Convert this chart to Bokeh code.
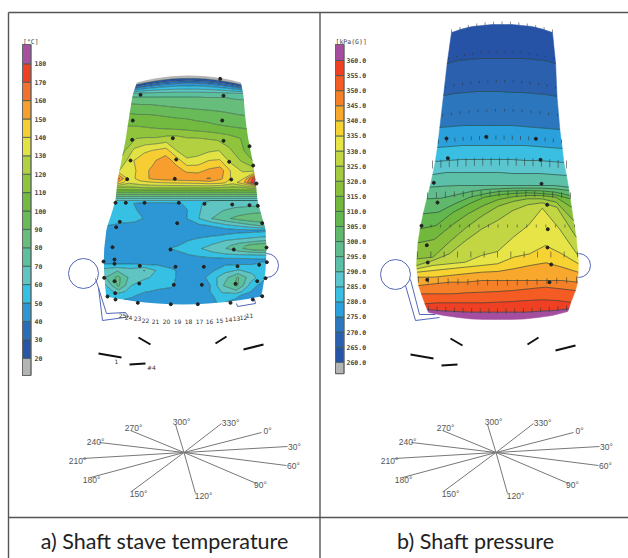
import numpy as np
from bokeh.plotting import figure
from bokeh.models import Range1d
from bokeh.core.properties import value
from bokeh.embed import file_html
from bokeh.resources import INLINE

# ---------- colour scales ----------
temp_levels = [0, 20, 30, 40, 50, 60, 70, 80, 90, 100, 110, 120, 130, 140, 150, 160, 170, 180, 200]
temp_colors = ["#b4b4b4", "#2a55a6", "#2b6cb9", "#2d97d6", "#35c0e4", "#60c5c2", "#5cbf9e", "#66bd7c",
               "#68bb58", "#72bb40", "#90c43c", "#b2d040", "#e2e244", "#f6cd32", "#f89e2e", "#f4702c",
               "#ef4024", "#a84fa2"]
temp_ticks = [180, 170, 160, 150, 140, 130, 120, 110, 100, 90, 80, 70, 60, 50, 40, 30, 20]

pres_levels = [260, 265, 270, 275, 280, 285, 290, 295, 300, 305, 310, 315, 320, 325, 330, 335, 340, 345, 350, 355, 360]
pres_colors = ["#2753a6", "#2a60ad", "#2c76bd", "#2aa0dc", "#3abfe3", "#5cc6cf", "#5cc0a8", "#60bc8c",
               "#5fb86c", "#62b84e", "#72b83c", "#8abf3c", "#a4ca40", "#c2d644", "#e6e446", "#f6d232",
               "#f8a82c", "#f68028", "#f45c24", "#ef4023", "#a54ea0"]
pres_ticks = [f"{v}.0" for v in pres_levels]

# ---------- shaft stave temperature, degrees C ----------
temp_u = [i / 12 for i in range(13)]
temp_row_y = [75, 84, 92, 97, 104, 115, 127, 138, 150, 160, 170, 178, 182, 187, 190, 194, 198, 200, 203, 210,
              218, 225, 230, 235, 240, 245, 248, 254, 259, 264, 270, 277, 285, 291, 296, 304]
temp_row_bow = [7, 5, 1, 0, 0, 0, 0, 0, 0, 0, 0, 0, 0, 0, 0, 0, 0, 0, 0, 0,
                0, 0, 0, 0, 0, 0, 0, 0, 0, 0, 0, 0, 0, 0, -2, -8]
temp_values = [
    [8, 8, 8, 8, 8, 8, 8, 8, 8, 8, 8, 8, 8],
    [45, 45, 45, 45, 45, 45, 45, 45, 45, 45, 45, 45, 45],
    [71, 71, 71, 71, 71, 71, 71, 71, 71, 71, 70, 70, 70],
    [81, 81, 81, 81, 81, 81, 81, 81, 80, 80, 80, 79, 79],
    [91, 90, 90, 89, 88, 87, 86, 85.5, 85, 84.5, 84, 83, 82],
    [102, 101, 101, 100, 99, 98, 97.5, 96, 95, 94, 92.5, 91, 90],
    [111, 111, 110, 109, 108, 107, 106.5, 105, 104, 102, 101, 100, 99],
    [118, 120, 121, 121, 123.5, 124, 121, 120.5, 119.5, 118, 115, 111, 107],
    [118, 132, 138, 141, 144, 130, 124, 125, 128, 130, 122, 113, 105],
    [122, 139, 146, 149, 156, 146, 132, 134, 140, 141, 127, 119, 110],
    [130, 134, 147, 152, 155, 155, 148, 147, 152, 155, 138, 128, 125],
    [165, 135, 145, 152, 155, 156, 157, 157, 161, 152, 138, 140, 180],
    [150, 132, 137, 139, 141, 142, 143, 144, 146, 144, 134, 150, 186],
    [118, 118, 120, 122, 122, 122, 122, 122, 122, 120, 118, 120, 130],
    [108, 108, 108, 108, 108, 108, 108, 108, 108, 108, 108, 108, 108],
    [90, 90, 90, 90, 90, 90, 90, 90, 90, 90, 90, 90, 90],
    [70, 70, 70, 70, 70, 70, 70, 70, 70, 70, 70, 70, 70],
    [60, 60, 60, 60, 60, 60, 60, 60, 60, 60, 60, 60, 60],
    [54, 53, 48, 46, 46, 47, 52, 58, 64, 66, 66, 66, 66],
    [54, 53, 50, 46, 44, 46, 49, 59, 65, 70, 73, 75, 76],
    [52, 52, 53, 48, 45, 44, 49.5, 60, 70, 77, 83, 87, 90],
    [50, 49, 47, 45, 44, 44, 45, 48, 51, 57, 62, 68, 72],
    [45, 45, 45, 45, 45, 45, 45, 45, 45, 46, 47, 47, 48],
    [44, 44, 44, 44, 44, 44, 45, 47, 49, 51, 53, 55, 57],
    [43, 43, 43, 44, 44, 47, 49, 53, 57, 60, 63, 66, 70],
    [44, 44, 44, 44, 45, 48, 52, 56, 61, 67, 76, 84, 88],
    [43, 43, 43, 44, 47, 50.5, 54, 59, 64, 70, 78, 86, 88],
    [42, 42, 43, 43, 44, 46, 49, 53, 57, 59, 60.5, 61, 62],
    [42, 42, 42, 42, 42, 43, 44, 45, 46, 47, 47, 48, 49],
    [51, 51, 51, 50, 49, 46, 44, 43, 45, 49, 50, 50, 52],
    [64, 69, 64, 70.5, 58, 52, 46, 44, 48, 57, 61, 57, 53],
    [69, 83, 66, 62, 57, 52, 46, 43, 55, 66, 81, 64, 53],
    [58, 82, 60, 53, 52, 51, 46, 42, 50, 70.5, 82, 57, 44],
    [52, 66, 54, 50.5, 49, 48, 47, 42, 50, 62, 67, 51, 42],
    [52, 53, 51, 47, 44, 45, 44, 42, 48, 54, 52, 47, 42],
    [50, 51, 48, 45, 43, 43, 43, 43, 49, 50.5, 49, 46, 42],
]
temp_outline_y = [70, 80, 95, 120, 140, 160, 180, 200, 215, 228, 250, 270, 290, 305]
temp_outline_left = [138, 137, 132, 128, 125, 121, 117, 115, 110.5, 106, 103.5, 103.5, 105, 107]
temp_outline_right = [239, 240, 243, 245, 248, 252, 255, 257, 261, 265, 266, 265, 262, 258]

temp_point_x = [219.7, 140, 223, 132.3, 221.7, 131.7, 172.3, 223, 249, 130, 175.7, 228.7, 252.7, 126.7, 174.3, 230.7,
                256, 115, 125.3, 144, 178.3, 204, 231.7, 249, 257.3, 119.3, 176.7, 115.7, 261.7, 112, 170, 233.3, 266,
                114, 103, 114, 139.3, 175, 203.3, 237, 258.7, 266.3, 103.7, 114, 138.7, 173.3, 201.3, 235, 256.7, 265,
                114.7, 107, 115, 137.3, 170.3, 197.3, 230, 252.3, 261.7]
temp_point_y = [78.3, 94.3, 95.3, 120, 120, 139.3, 137.7, 140.3, 145.7, 160, 159, 161.3, 165, 178.7, 178.3, 179, 183,
                202.3, 202.3, 202.3, 202.3, 203.3, 204, 204.7, 205.3, 221.3, 222.7, 226.7, 222.7, 246.7, 249, 249, 247,
                259, 261, 263.3, 265.3, 266.3, 266.3, 265.7, 264.3, 261.7, 277.3, 280.7, 283, 284.3, 284.3, 283.3,
                280.7, 277.7, 292.7, 296, 299, 302.3, 303.7, 303.7, 302.3, 299, 295.7]
stave_numbers = ["25", "24", "23", "22", "21", "20", "19", "18", "17", "16", "15", "14", "13", "12", "11"]
stave_x = [122, 128, 137, 145, 155, 166, 177, 188, 199, 209, 219, 228, 236, 243, 249]
stave_y = [315, 317, 318, 320, 321, 321, 321, 321, 321, 321, 320, 319, 318, 317, 315]

# ---------- shaft pressure, kPa(G): height of each pressure level across the shaft ----------
pres_u = [i / 10 for i in range(11)]
pres_isolines = [
    [32, 28.5, 26, 25, 24, 24, 24, 25, 26, 28.5, 32],
    [63, 60, 59, 58, 58, 58, 58, 58, 59, 60, 63],
    [95, 93, 92, 91, 91, 91, 92, 92, 93, 94, 96],
    [127, 126, 125, 125, 125, 125, 125, 126, 127, 128, 129],
    [147, 146, 145, 145, 145, 145, 145, 145, 146, 147, 148],
    [161, 160, 159, 159, 159, 159, 159, 160, 160, 161, 162],
    [174, 172, 172, 172, 172, 172, 173, 173, 173, 174, 175],
    [186.7, 185.7, 185, 185, 185, 185, 185, 185, 185, 185, 186.7],
    [198.3, 197.7, 194.3, 191, 189, 188.3, 187.7, 187.7, 187.7, 188.3, 190],
    [213.3, 211.7, 203.3, 196.7, 193.3, 191, 190.3, 190, 190.3, 191.7, 195],
    [228.3, 225, 211.7, 203.3, 196.7, 194.3, 193, 192.3, 193, 194.3, 198.3],
    [242.3, 239, 225, 213.3, 205, 199, 196.3, 195, 195, 196.7, 206.7],
    [258.3, 256.7, 241, 226.7, 215, 205.7, 201, 198.3, 198.3, 201.7, 220],
    [265, 260, 253.3, 240, 228.3, 220, 210, 204.3, 202.3, 206.7, 236.7],
    [268.3, 265, 263.3, 261.7, 255, 251, 236.7, 225, 207.7, 228.3, 255],
    [271.7, 270, 268.3, 266.7, 265, 263.3, 256.7, 253.3, 245, 253.3, 263.3],
    [276.7, 276.7, 275, 273.3, 271.7, 271, 268.3, 265, 262.3, 266.7, 271.7],
    [285, 283.3, 281.7, 281.7, 280, 280, 280, 280, 280, 280, 281.7],
    [293.3, 293.3, 293.3, 292.3, 291.7, 291, 290, 288.3, 286.7, 288.3, 290],
    [303.3, 302.3, 302.3, 302.3, 302.3, 301.7, 301, 300, 299.3, 300, 301.7],
    [309, 310.3, 311, 311.7, 311.7, 311.7, 311.7, 311.7, 310.7, 310, 308.3],
    [312, 315, 317, 318.5, 319, 319, 319, 318.5, 317, 315, 311],
]
pres_outline_y = [24, 32, 60, 87, 120, 140, 160, 180, 200, 220, 245, 265, 285, 300, 312, 320]
pres_outline_left = [452, 451, 447, 444, 440, 438, 435, 431, 426, 421, 417, 416, 418, 423, 428, 432]
pres_outline_right = [551, 552, 555, 556, 558, 561, 563, 567, 570, 573, 577, 578, 577, 571, 567, 563]
pres_point_x = [446, 485.7, 535.3, 447.3, 540, 433.3, 541, 437, 546.7, 547.3, 421, 426.3, 547, 427.3, 550.7, 426.7, 549]
pres_point_y = [138, 136.3, 138.3, 157.7, 159.3, 182.3, 183.3, 202, 204.3, 228.7, 225.3, 244.7, 247, 262, 264, 279.3, 281.7]
sensor_row_y = [24, 52, 82, 111, 139, 165, 196, 227, 257, 285, 313]
sensor_row_bow = [8, 7, 6, 5, 4, 3, 2, 0, 0, -3, -3]
sensor_row_left = [451, 448, 445, 442, 438, 432, 427, 421, 417, 418, 428]
sensor_row_right = [552, 553, 555, 557, 561, 566, 570, 574, 577, 576, 566]
sensor_row_count = [13, 14, 14, 14, 16, 17, 17, 17, 13, 17, 17]
sensor_row_len = [3, 2, 2.5, 2.5, 4, 8, 6, 3, 6, 6, 5]

# ---------- furnace furniture ----------
angle_labels = ["0°", "30°", "60°", "90°", "120°", "150°", "180°", "210°", "240°", "270°", "300°", "330°"]
angle_end_x = [261, 287, 286, 256, 195, 131, 90, 82, 99, 130, 175, 221]
angle_end_y = [432, 446, 465, 483, 493, 491, 477, 458, 442, 430, 424, 423]
angle_label_x = [267, 294, 293, 260, 203, 138, 91, 77, 95, 133, 181, 230]
angle_label_y = [430, 446, 465, 484, 495, 493, 479, 460, 441, 427, 421, 422]
angle_center = (183.5, 452)
panel_shift = 312
taphole_x0 = [138, 215, 243, 98, 129]
taphole_y0 = [337, 343, 349, 353, 364]
taphole_x1 = [150, 226, 263, 121, 145]
taphole_y1 = [344, 336, 344, 357, 363]

W, H = 628, 558
p = figure(width=W, height=H, x_range=Range1d(0, W), y_range=Range1d(H, 0),
           output_backend="svg", toolbar_location=None, min_border=0)
p.axis.visible = False
p.grid.visible = False
p.outline_line_color = None
p.background_fill_color = "white"

FRAME = "#555555"
BLUE = "#5468b8"
LABEL = "#444444"
ISO = "#1c3a30"

def y_map(val_a, px_a, px_per_unit):
    return Range1d(val_a + (px_a - H) / px_per_unit, val_a + px_a / px_per_unit)

p.extra_y_ranges = {"temp": y_map(180, 63.3, 1.84), "pres": y_map(360, 60, 3.017)}

# frame
p.segment([8, 8, 319.5, 8], [12, 517, 12, 12], [628, 628, 319.5, 8], [12, 517, 558, 558],
          line_color=FRAME, line_width=1.4)

# colour bars
tb = temp_levels[1:-1]
tlow = [10.6] + tb
thigh = tb + [190.5]
p.quad(left=22, right=30.5, bottom=tlow, top=thigh, fill_color=temp_colors, line_color="#3a5a50",
       line_width=0.8, y_range_name="temp")
p.quad(left=22, right=30.5, bottom=10.6, top=190.5, fill_color=None, line_color="#666666",
       line_width=1, y_range_name="temp")
p.text(x=[34] * len(temp_ticks), y=temp_ticks, text=[str(v) for v in temp_ticks], y_range_name="temp",
       text_font=value("DejaVu Sans Mono"), text_font_size="6.5px", text_font_style="bold",
       text_color=LABEL, text_baseline="middle")
p.text(x=[22.5], y=[41], text=["[°C]"], text_font=value("DejaVu Sans Mono"), text_font_size="6.5px",
       text_color=LABEL, text_baseline="middle")

plow = [256.2] + pres_levels
phigh = pres_levels + [365.3]
p.quad(left=335, right=343.5, bottom=plow, top=phigh, fill_color=["#b4b4b4"] + pres_colors, line_color="#3a5a50",
       line_width=0.8, y_range_name="pres")
p.quad(left=335, right=343.5, bottom=256.2, top=365.3, fill_color=None, line_color="#666666",
       line_width=1, y_range_name="pres")
p.text(x=[346] * len(pres_ticks), y=pres_levels[::-1], text=pres_ticks[::-1], y_range_name="pres",
       text_font=value("DejaVu Sans Mono"), text_font_size="6.5px", text_font_style="bold",
       text_color=LABEL, text_baseline="middle")
p.text(x=[335], y=[41], text=["[kPa(G)]"], text_font=value("DejaVu Sans Mono"), text_font_size="6.5px",
       text_color=LABEL, text_baseline="middle")

# cooling pipes behind the shafts
p.circle(x=[83, 266, 395, 578], y=[273, 265, 274, 265], radius=[15, 12, 15, 12], fill_color=None,
         line_color=BLUE, line_width=1)
p.multi_line(
    xs=[[95, 106, 125, 128, 124, 102, 98], [236, 237, 255, 254], [405, 415, 439], [410, 419, 435]],
    ys=[[278, 313, 312, 316, 317, 320, 287], [303, 306, 303, 299], [285, 320, 317], [279, 314, 314]],
    line_color=BLUE, line_width=1)

# temperature map
tu = np.array(temp_u)
Y = np.array(temp_row_y, float)[:, None] + np.array(temp_row_bow, float)[:, None] * (2 * tu[None, :] - 1) ** 2
LX = np.interp(Y, temp_outline_y, temp_outline_left)
RX = np.interp(Y, temp_outline_y, temp_outline_right)
X = LX + tu[None, :] * (RX - LX)
p.contour(X, Y, np.array(temp_values, float), levels=temp_levels, fill_color=temp_colors,
          line_color=ISO, line_width=0.6, line_alpha=0.8)
p.scatter(temp_point_x, temp_point_y, size=3, color="#222222")
p.text(x=stave_x, y=stave_y, text=stave_numbers, text_font=value("DejaVu Sans"), text_font_size="6px",
       text_color="#333333", text_align="center", text_baseline="middle")

# pressure map
pu = np.array(pres_u)
iso = np.array(pres_isolines, float)
isoL = np.interp(iso, pres_outline_y, pres_outline_left)
isoR = np.interp(iso, pres_outline_y, pres_outline_right)
isoX = isoL + pu[None, :] * (isoR - isoL)
bxs = [list(isoX[i]) + list(isoX[i + 1][::-1]) for i in range(len(iso) - 1)]
bys = [list(iso[i]) + list(iso[i + 1][::-1]) for i in range(len(iso) - 1)]
p.patches(bxs, bys, fill_color=pres_colors, line_color=pres_colors, line_width=0.5)
p.multi_line([list(r) for r in isoX[1:-1]], [list(r) for r in iso[1:-1]], line_color=ISO, line_width=0.7, line_alpha=0.85)

sx0, sy0, sy1 = [], [], []
for yc, bow, xl, xr, n, ln in zip(sensor_row_y, sensor_row_bow, sensor_row_left, sensor_row_right,
                                  sensor_row_count, sensor_row_len):
    for f in np.linspace(0, 1, n):
        y_here = yc + bow * (2 * f - 1) ** 2
        sx0.append(xl + f * (xr - xl))
        sy0.append(y_here - ln)
        sy1.append(y_here)
p.segment(sx0, sy0, sx0, sy1, line_color="#333333", line_width=0.7, line_alpha=0.8)
p.scatter(pres_point_x, pres_point_y, size=3, color="#222222")

# taphole runners and direction rose, both panels
for dx, dy, tap_dx in ((0, 0, 0), (panel_shift, 1, 312)):
    p.segment([v + tap_dx for v in taphole_x0], [v + dy for v in taphole_y0],
              [v + tap_dx for v in taphole_x1], [v + dy for v in taphole_y1],
              line_color="#111111", line_width=2)
    p.segment([angle_center[0] + dx] * 12, [angle_center[1]] * 12, [v + dx for v in angle_end_x], angle_end_y,
              line_color="#777777", line_width=1)
    p.text(x=[v + dx for v in angle_label_x], y=angle_label_y, text=angle_labels,
           text_font=value("Liberation Sans"), text_font_size="8.5px", text_color="#555555",
           text_align="center", text_baseline="middle")
p.text(x=[151, 116], y=[367, 361], text=["#4", "1"], text_font=value("DejaVu Sans"), text_font_size="6px",
       text_color="#333333", text_align="center", text_baseline="middle")

# captions
p.text(x=[164, 475], y=[540, 540], text=["a) Shaft stave temperature", "b) Shaft pressure"],
       text_font=value("Lato"), text_font_size="21.5px", text_color="#222222",
       text_align="center", text_baseline="middle")

open("out.html", "w").write(file_html(p, INLINE))
